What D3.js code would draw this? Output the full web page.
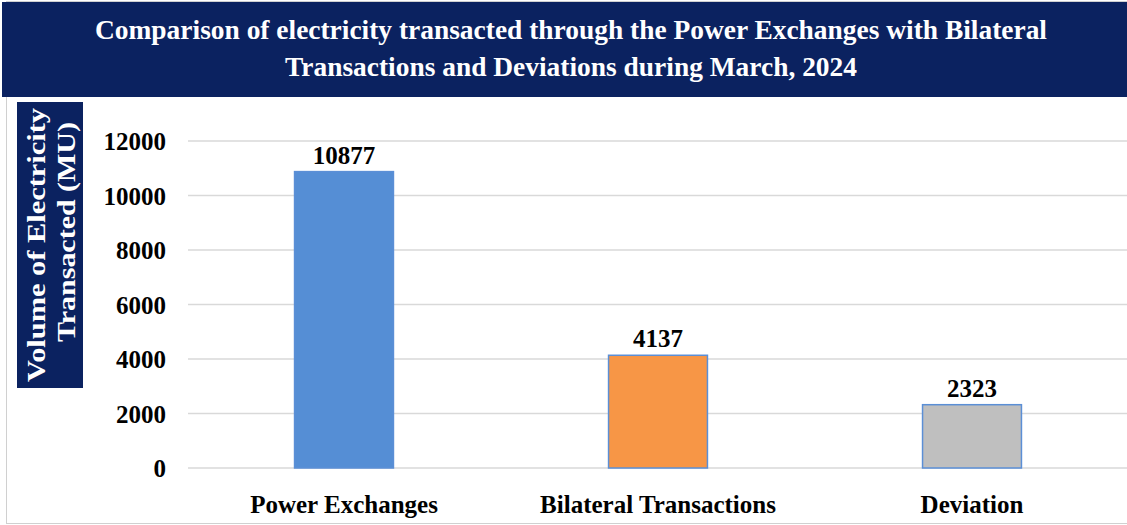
<!DOCTYPE html>
<html><head><meta charset="utf-8">
<script src="https://cdn.jsdelivr.net/npm/d3@7"></script>
<style>body{margin:0;background:#fff}svg{display:block}</style>
</head><body>
<script>
const categories = ["Power Exchanges", "Bilateral Transactions", "Deviation"];
const values = [10877, 4137, 2323];
const colors = ["#558ed5", "#f79646", "#bfbfbf"];
const yTicks = [0, 2000, 4000, 6000, 8000, 10000, 12000];
const titleLines = ["Comparison of electricity transacted through the Power Exchanges with Bilateral", "Transactions and Deviations during March, 2024"];
const yLabelLines = ["Volume of Electricity", "Transacted (MU)"];

const W = 1127, H = 525;
const svg = d3.select("body").append("svg").attr("width", W).attr("height", H);
const serif = "'Liberation Serif','Times New Roman',serif";

// outer border
svg.append("rect").attr("x", 6.5).attr("y", 1.5).attr("width", W - 6).attr("height", H - 3)
  .attr("fill", "#fff").attr("stroke", "#d0d0d0").attr("stroke-width", 1);

// title banner
svg.append("rect").attr("x", 2).attr("y", 2).attr("width", W - 2).attr("height", 95).attr("fill", "#0b2260");
const tl = [{t: titleLines[0], y: 39, len: 952}, {t: titleLines[1], y: 76, len: 572}];
svg.selectAll("text.title").data(tl).enter().append("text")
  .attr("class", "title")
  .attr("x", 571).attr("y", d => d.y)
  .attr("text-anchor", "middle")
  .attr("textLength", d => d.len).attr("lengthAdjust", "spacingAndGlyphs")
  .attr("fill", "#fff").attr("font-family", serif).attr("font-weight", "bold").attr("font-size", 28)
  .text(d => d.t);

// y label box
svg.append("rect").attr("x", 17).attr("y", 102).attr("width", 66).attr("height", 286).attr("fill", "#0b2260");
const yl = svg.append("g").attr("transform", "translate(50,245) rotate(-90)");
const ylData = [{t: yLabelLines[0], cx: 0, by: -5, len: 274}, {t: yLabelLines[1], cx: 13, by: 25, len: 220}];
yl.selectAll("text").data(ylData).enter().append("text")
  .attr("x", d => d.cx).attr("y", d => d.by)
  .attr("text-anchor", "middle")
  .attr("textLength", d => d.len).attr("lengthAdjust", "spacingAndGlyphs")
  .attr("fill", "#fff").attr("font-family", serif).attr("font-weight", "bold").attr("font-size", 25)
  .text(d => d.t);

// scales
const x = d3.scaleBand().domain(categories).range([187, 1129]).paddingInner(0.685).paddingOuter(0.3425);
const y = d3.scaleLinear().domain([0, 12000]).range([468, 141]);

// gridlines
svg.append("g").selectAll("line").data(yTicks).enter().append("line")
  .attr("x1", 188).attr("x2", W).attr("y1", d => y(d)).attr("y2", d => y(d))
  .attr("stroke", "#d9d9d9").attr("stroke-width", 1.5);

// y axis labels
const yAxis = d3.axisLeft(y).tickValues(yTicks).tickSize(0).tickPadding(0).tickFormat(d3.format("d"));
const ya = svg.append("g").attr("transform", "translate(166,0)").call(yAxis);
ya.select(".domain").remove();
ya.selectAll("text").attr("font-family", serif).attr("font-weight", "bold").attr("font-size", 25).attr("fill", "#000").attr("dy", "0.35em");

// bars
svg.append("g").selectAll("rect").data(values).enter().append("rect")
  .attr("x", (d, i) => x(categories[i]))
  .attr("y", d => y(d))
  .attr("width", x.bandwidth())
  .attr("height", d => y(0) - y(d))
  .attr("fill", (d, i) => colors[i])
  .attr("stroke", "#5b8fd6").attr("stroke-width", 1.5);

// value labels
svg.append("g").selectAll("text").data(values).enter().append("text")
  .attr("x", (d, i) => x(categories[i]) + x.bandwidth() / 2)
  .attr("y", d => y(d) - 8)
  .attr("text-anchor", "middle")
  .attr("font-family", serif).attr("font-weight", "bold").attr("font-size", 25).attr("fill", "#000")
  .text(d => d);

// x axis labels
const xAxis = d3.axisBottom(x).tickSize(0).tickPadding(0);
const xa = svg.append("g").attr("transform", "translate(0,495)").call(xAxis);
xa.select(".domain").remove();
xa.selectAll("text").attr("font-family", serif).attr("font-weight", "bold").attr("font-size", 25).attr("fill", "#000");
</script>
</body></html>
